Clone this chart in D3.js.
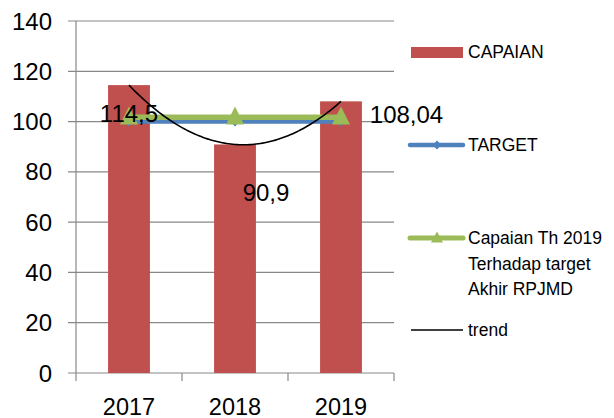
<!DOCTYPE html>
<html>
<head>
<meta charset="utf-8">
<script src="https://cdn.jsdelivr.net/npm/d3@7/dist/d3.min.js"></script>
<style>
  html, body { margin: 0; padding: 0; background: #fff; }
  svg { display: block; font-family: "Liberation Sans", Arial, sans-serif; }
</style>
</head>
<body>
<svg id="chart" width="614" height="418"></svg>
<script>
// Categories and series
const years = ["2017", "2018", "2019"];
const capaian = [114.5, 90.9, 108.04];
const target = [100, 100, 100];
const capaianTerhadapRPJMD = [101.7, 101.7, 101.7];
const capaianLabels = ["114,5", "90,9", "108,04"];
const yTicks = [0, 20, 40, 60, 80, 100, 120, 140];

const svg = d3.select("#chart");
const plotLeft = 76, plotRight = 394, plotTop = 21, plotBottom = 373;

const x = d3.scaleBand().domain(years).range([plotLeft, plotRight])
  .paddingInner(0.605).paddingOuter(0.3025);
const y = d3.scaleLinear().domain([0, 140]).range([plotBottom, plotTop]);
const cx = d => x(d) + x.bandwidth() / 2;

const grid = "#888";

// Horizontal gridlines with left tick marks
svg.append("g").selectAll("line").data(yTicks).join("line")
  .attr("x1", plotLeft - 8).attr("x2", plotRight)
  .attr("y1", d => y(d)).attr("y2", d => y(d))
  .attr("stroke", grid).attr("stroke-width", 1.2);

// Vertical axis line
svg.append("line").attr("x1", plotLeft).attr("x2", plotLeft)
  .attr("y1", plotTop).attr("y2", plotBottom)
  .attr("stroke", grid).attr("stroke-width", 1.2);

// Category boundary ticks on the x axis
const boundaries = [plotLeft].concat(years.map(d => x(d) + x.bandwidth() + x.step() * x.paddingInner() / 2));
svg.append("g").selectAll("line").data(boundaries).join("line")
  .attr("x1", d => d).attr("x2", d => d)
  .attr("y1", plotBottom).attr("y2", plotBottom + 8)
  .attr("stroke", grid).attr("stroke-width", 1.2);

// Y tick labels
svg.append("g").selectAll("text").data(yTicks).join("text")
  .attr("x", 52).attr("y", d => y(d))
  .attr("dy", "0.36em")
  .attr("text-anchor", "end")
  .attr("font-size", 24)
  .attr("fill", "#000")
  .text(d => d);

// X tick labels
svg.append("g").selectAll("text").data(years).join("text")
  .attr("x", d => cx(d)).attr("y", 415)
  .attr("text-anchor", "middle")
  .attr("font-size", 23.5)
  .attr("fill", "#000")
  .text(d => d);

// Bars
svg.append("g").selectAll("rect").data(years).join("rect")
  .attr("x", d => x(d)).attr("width", x.bandwidth())
  .attr("y", (d, i) => y(capaian[i]))
  .attr("height", (d, i) => y(0) - y(capaian[i]))
  .attr("fill", "#c0504d");

// TARGET line with diamond markers
const line = d3.line().x(d => cx(d[0])).y(d => y(d[1]));
svg.append("path")
  .datum(years.map((d, i) => [d, target[i]]))
  .attr("d", line).attr("fill", "none")
  .attr("stroke", "#4f81bd").attr("stroke-width", 4.5)
  .attr("stroke-linecap", "round");
svg.append("g").selectAll("path").data(years).join("path")
  .attr("d", d3.symbol(d3.symbolDiamond2, 60))
  .attr("transform", (d, i) => `translate(${cx(d)},${y(target[i])})`)
  .attr("fill", "#4f81bd");

// Capaian Th 2019 line with triangle markers
svg.append("path")
  .datum(years.map((d, i) => [d, capaianTerhadapRPJMD[i]]))
  .attr("d", line).attr("fill", "none")
  .attr("stroke", "#9bbb59").attr("stroke-width", 5.5);
const tri = (w, h) => `M0,${-h * 0.6}L${w / 2},${h * 0.4}L${-w / 2},${h * 0.4}Z`;
svg.append("g").selectAll("path").data(years).join("path")
  .attr("d", tri(18, 18))
  .attr("transform", (d, i) => `translate(${cx(d)},${y(capaianTerhadapRPJMD[i])})`)
  .attr("fill", "#9bbb59");

// Polynomial (order 2) trend through the CAPAIAN values
const n = capaian.length;
const xs = capaian.map((d, i) => i + 1);
// Least-squares quadratic fit
function fitQuadratic(xv, yv) {
  let s = [0, 0, 0, 0, 0], t = [0, 0, 0];
  xv.forEach((xi, k) => {
    for (let p = 0; p < 5; p++) s[p] += Math.pow(xi, p);
    for (let p = 0; p < 3; p++) t[p] += Math.pow(xi, p) * yv[k];
  });
  const A = [[s[0], s[1], s[2], t[0]], [s[1], s[2], s[3], t[1]], [s[2], s[3], s[4], t[2]]];
  for (let i = 0; i < 3; i++) {
    for (let j = i + 1; j < 3; j++) {
      const f = A[j][i] / A[i][i];
      for (let k = i; k < 4; k++) A[j][k] -= f * A[i][k];
    }
  }
  const c = [0, 0, 0];
  for (let i = 2; i >= 0; i--) {
    let v = A[i][3];
    for (let k = i + 1; k < 3; k++) v -= A[i][k] * c[k];
    c[i] = v / A[i][i];
  }
  return c;
}
const coef = fitQuadratic(xs, capaian);
const xPos = d3.scaleLinear().domain([1, n]).range([cx(years[0]), cx(years[n - 1])]);
const trendPts = d3.range(1, n + 0.001, 0.02).map(v => [xPos(v), y(coef[0] + coef[1] * v + coef[2] * v * v)]);
svg.append("path")
  .attr("d", d3.line()(trendPts))
  .attr("fill", "none").attr("stroke", "#000").attr("stroke-width", 1.6);

// Value labels for CAPAIAN
const labelOffsets = [[0, 121.7], [31, 200.7], [65.5, 123.3]];
svg.append("g").selectAll("text").data(years).join("text")
  .attr("x", (d, i) => cx(d) + labelOffsets[i][0])
  .attr("y", (d, i) => labelOffsets[i][1])
  .attr("text-anchor", "middle")
  .attr("font-size", 24)
  .attr("fill", "#000")
  .text((d, i) => capaianLabels[i]);

// Legend
const legend = svg.append("g").attr("font-size", 17.5).attr("fill", "#000");
const lx0 = 411, lx1 = 463, tx = 468;
legend.append("rect").attr("x", lx0).attr("y", 47).attr("width", lx1 - lx0).attr("height", 11).attr("fill", "#c0504d");
legend.append("text").attr("x", tx).attr("y", 52).attr("dy", "0.35em").text("CAPAIAN");

legend.append("line").attr("x1", lx0 - 1).attr("x2", lx1).attr("y1", 145).attr("y2", 145)
  .attr("stroke", "#4f81bd").attr("stroke-width", 4.5).attr("stroke-linecap", "round");
legend.append("path").attr("d", d3.symbol(d3.symbolDiamond2, 50)).attr("transform", `translate(${(lx0 + lx1) / 2},145)`).attr("fill", "#4f81bd");
legend.append("text").attr("x", tx).attr("y", 145).attr("dy", "0.35em").text("TARGET");

legend.append("line").attr("x1", lx0 - 1).attr("x2", lx1).attr("y1", 238).attr("y2", 238)
  .attr("stroke", "#9bbb59").attr("stroke-width", 5).attr("stroke-linecap", "round");
legend.append("path").attr("d", tri(12, 11)).attr("transform", `translate(${(lx0 + lx1) / 2},238)`).attr("fill", "#9bbb59");
["Capaian Th 2019", "Terhadap target", "Akhir RPJMD"].forEach((s, i) => {
  legend.append("text").attr("x", tx).attr("y", 238 + i * 25.5).attr("dy", "0.35em").text(s);
});

legend.append("line").attr("x1", lx0).attr("x2", lx1).attr("y1", 330).attr("y2", 330)
  .attr("stroke", "#000").attr("stroke-width", 1.5);
legend.append("text").attr("x", tx).attr("y", 330).attr("dy", "0.35em").text("trend");
</script>
</body>
</html>
